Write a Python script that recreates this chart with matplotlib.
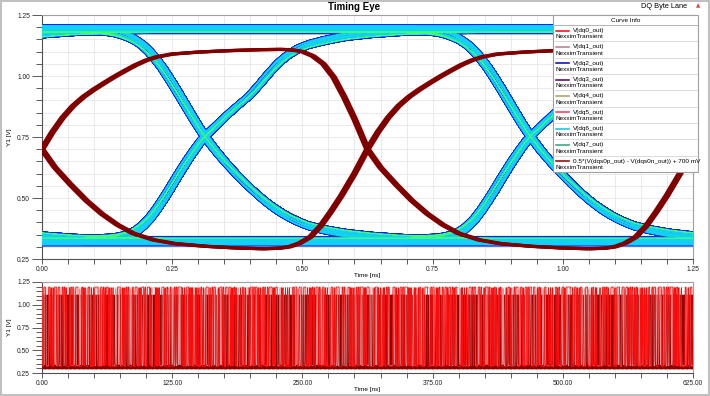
import numpy as np
import matplotlib
matplotlib.use("Agg")
import matplotlib.pyplot as plt
from matplotlib.collections import LineCollection
from matplotlib.patches import Rectangle
from matplotlib.ticker import MultipleLocator, FormatStrFormatter

plt.rcParams['font.family'] = ['Liberation Sans', 'DejaVu Sans']
plt.rcParams['path.simplify'] = False

# ---------------- data ----------------
UI = 0.625          # ns, DQ unit interval
EYE_SPAN = 1.25     # ns, eye window
TRAN_END = 625.0    # ns

# DQ edge shapes read from the eye (time from crossing [ns], volts)
rise_dt = [-0.24, -0.20, -0.17, -0.15, -0.13, -0.11, -0.09, -0.07, -0.05, -0.03, -0.01, 0.0,
           0.02, 0.04, 0.06, 0.08, 0.10, 0.12, 0.14, 0.16, 0.18, 0.20, 0.23, 0.27, 0.32, 0.38, 0.45, 0.55]
rise_v = [0.330, 0.333, 0.340, 0.352, 0.375, 0.410, 0.465, 0.530, 0.600, 0.665, 0.725, 0.750,
          0.790, 0.830, 0.868, 0.902, 0.945, 0.995, 1.040, 1.075, 1.100, 1.117, 1.133, 1.150, 1.162, 1.171, 1.177, 1.180]
fall_dt = [-0.24, -0.20, -0.18, -0.16, -0.14, -0.12, -0.10, -0.08, -0.06, -0.04, -0.02, 0.0,
           0.02, 0.04, 0.06, 0.08, 0.10, 0.12, 0.14, 0.16, 0.18, 0.20, 0.23, 0.27, 0.32, 0.38, 0.45, 0.55]
fall_v = [1.180, 1.178, 1.172, 1.160, 1.142, 1.115, 1.075, 1.020, 0.955, 0.885, 0.815, 0.750,
          0.695, 0.645, 0.600, 0.558, 0.520, 0.485, 0.455, 0.430, 0.410, 0.393, 0.377, 0.362, 0.350, 0.341, 0.335, 0.330]
EDGE_LOW, EDGE_HIGH = 0.33, 1.18

# DQS differential (one clock period, rising crossing at 0, falling crossing at 0.625)
dqs_t = [0.00, 0.02, 0.04, 0.06, 0.08, 0.10, 0.12, 0.14, 0.16, 0.18, 0.20, 0.22, 0.25, 0.30, 0.36, 0.42,
         0.46, 0.48, 0.50, 0.52, 0.54, 0.56, 0.58, 0.60, 0.625, 0.65, 0.68, 0.71, 0.74, 0.77, 0.80, 0.84,
         0.88, 0.94, 1.00, 1.05, 1.08, 1.10, 1.12, 1.14, 1.16, 1.18, 1.20, 1.225, 1.25]
dqs_v = [0.700, 0.770, 0.830, 0.878, 0.915, 0.945, 0.972, 0.998, 1.022, 1.045, 1.064, 1.078, 1.090, 1.098,
         1.104, 1.108, 1.109, 1.107, 1.100, 1.082, 1.050, 0.995, 0.915, 0.825, 0.700, 0.625, 0.555, 0.490,
         0.435, 0.390, 0.355, 0.328, 0.313, 0.302, 0.295, 0.292, 0.294, 0.300, 0.315, 0.340, 0.385, 0.445,
         0.510, 0.600, 0.700]
dqs_jitter = [-0.0035, 0.0, 0.0035]   # ns, spread of the DQS trace in the eye

legend_labels = ["V(dq0_out)", "V(dq1_out)", "V(dq2_out)", "V(dq3_out)", "V(dq4_out)",
                 "V(dq5_out)", "V(dq6_out)", "V(dq7_out)",
                 "0.5*(V(dqs0p_out) - V(dqs0n_out)) + 700 mV"]
legend_colors = ["#ff0000", "#b87888", "#0000c8", "#500058", "#a89c68",
                 "#ff3058", "#10c0e0", "#30a080", "#800000"]

lane_high = [1.195, 1.185, 1.205, 1.18, 1.19, 1.20, 1.185, 1.205]
lane_low = [0.32, 0.33, 0.31, 0.335, 0.325, 0.315, 0.33, 0.31]
lane_skew = [0.007, 0.004, -0.004, 0.0, -0.007, 0.002, -0.002, 0.005]

lane_bits_hex = [
    "9C3A5E71B42D8F06A1C97E3B5D240F8A6C19E57B3D02A8F4C6"
    "1B7E93D50A4C8F26E17B39D5A04C82F6E91B37D5C0A2486F1E"
    "3C95A7B1D20E4F86C3A91B7D5E02F48A6C1E93B7D50A2C4F86"
    "E2B19D735C0A48F6E3B17D95A2C04E86F1D3B79C5A0E2486B1"
    "D7F93A5C1E0B2846DA3C9F1E75B2D0A48C6E1F39B7D5A20C4E5A",
    "6E1B94C7A3F0582DB6E19C4A7F305D28E6B1C94A7D3F0825B6"
    "A4D7193E6C0B58F2A4D71E93C60B5F28A7D419E3C6B05F82A4"
    "F08C3D6A91E5B27C4F08D3A6E19B5C27F40D8A3E6C91B527F0"
    "2C9E5B18A7D4063FC29E5B81A7D4F063C2E95B18D7A4063FC2"
    "8B3F6D1A4E9C7025B83F6D1A9E4C7250B8F36D1A4E9C7205B87D",
    "A7C41E9B36D85F20C7A3E91B4D6F0825",
    "3E8B51D7A2C96F04E3B85D1A7C29F604",
    "D15A8E3C7B094F62D1A58E3C7B90F426",
    "58C2F7A1E4B9063D85C2F7A1E49B60D3",
    "B94E1C6A8F25D703B94E1C6A82F5D730",
    "4F7A2D9C1E86B5034F7A2D9C1E86B530",
]

eye_xticks = [0.0, 0.25, 0.50, 0.75, 1.00, 1.25]
y_ticks = [0.25, 0.50, 0.75, 1.00, 1.25]
tran_xticks = [0.0, 125.0, 250.0, 375.0, 500.0, 625.0]

# ---------------- waveform build ----------------
rise_dt_a = np.array(rise_dt)
fall_dt_a = np.array(fall_dt)
rise_frac = (np.array(rise_v) - EDGE_LOW) / (EDGE_HIGH - EDGE_LOW)
fall_frac = (EDGE_HIGH - np.array(fall_v)) / (EDGE_HIGH - EDGE_LOW)


def hex_to_bits(h, nmax=1000):
    b = [int(c) for ch in h for c in format(int(ch, 16), '04b')]
    return np.array(b[:nmax])


def lane_wave(bits, t, lo, hi, skew):
    sw = hi - lo
    v = np.full(t.shape, lo + sw * bits[0], dtype=float)
    for k in range(1, len(bits)):
        d = bits[k] - bits[k - 1]
        if d == 0:
            continue
        tc = (k - 0.5) * UI + skew
        dts, fr = (rise_dt_a, rise_frac) if d > 0 else (fall_dt_a, fall_frac)
        i0 = np.searchsorted(t, tc + dts[0])
        i1 = np.searchsorted(t, tc + dts[-1])
        v[i0:i1] += d * sw * np.interp(t[i0:i1] - tc, dts, fr)
        v[i1:] += d * sw
    return v


STEP = 0.0125
PTS = int(round(EYE_SPAN / STEP))
t_local = np.arange(PTS + 1) * STEP

lane_waves = []
eye_segs = []
eye_segs_lane = []
for i, hx in enumerate(lane_bits_hex):
    bits = hex_to_bits(hx)
    nwin = len(bits) // 2
    t = np.arange(nwin * PTS + 1) * STEP
    v = lane_wave(bits, t, lane_low[i], lane_high[i], lane_skew[i])
    lane_waves.append((t, v))
    for j in range(nwin):
        seg = np.column_stack([t_local, v[j * PTS:(j + 1) * PTS + 1]])
        eye_segs.append(seg)
        eye_segs_lane.append(i)

# ---------------- figure ----------------
W, H = 710, 396
fig = plt.figure(figsize=(W / 100, H / 100), dpi=100)
fig.patch.set_facecolor('white')

ax = fig.add_axes([42 / W, 1 - 259 / H, 651 / W, 244 / H])
axb = fig.add_axes([42 / W, 1 - 373 / H, 651 / W, 91 / H])

for a in (ax, axb):
    a.set_ylim(0.25, 1.25)
    a.set_yticks(y_ticks)
    a.yaxis.set_minor_locator(MultipleLocator(0.05))
    a.yaxis.set_major_formatter(FormatStrFormatter('%.2f'))
    a.tick_params(axis='y', which='major', direction='out', length=7.2, width=0.6,
                  color='#404040', labelsize=4.8, pad=1.5, labelcolor='#202020')
    a.tick_params(axis='y', which='minor', direction='out', length=4, width=0.6, color='#404040')
    a.tick_params(axis='x', which='both', direction='out', length=3.6, width=0.6,
                  color='#404040', labelsize=4.8, pad=1.5, labelcolor='#202020')
    a.grid(which='both', color='#e6e6e6', lw=0.6)
    a.set_axisbelow(True)
    for s in ('left', 'bottom'):
        a.spines[s].set_color('#505050')
        a.spines[s].set_linewidth(0.8)
    for s in ('top', 'right'):
        a.spines[s].set_color('#a0a0a0')
        a.spines[s].set_linewidth(0.8)

ax.set_xlim(0, EYE_SPAN)
ax.set_xticks(eye_xticks)
ax.xaxis.set_minor_locator(MultipleLocator(0.05))
ax.xaxis.set_major_formatter(FormatStrFormatter('%.2f'))

axb.set_xlim(0, TRAN_END)
axb.set_xticks(tran_xticks)
axb.xaxis.set_minor_locator(MultipleLocator(25))
axb.xaxis.set_major_formatter(FormatStrFormatter('%.2f'))

# eye: density-like layering
ax.add_collection(LineCollection(eye_segs, colors='#0a22f4', linewidths=2.3, zorder=2))
ax.add_collection(LineCollection(eye_segs, colors='#1e78ff', linewidths=1.1, zorder=3))
ax.add_collection(LineCollection(eye_segs, colors='#12d2f6', linewidths=0.4, zorder=4))
green = [s for s, l in zip(eye_segs, eye_segs_lane) if l == 3]
ax.add_collection(LineCollection(green, colors='#40ff70', linewidths=0.3, zorder=5))

# DQS in eye (copies shifted by half a period cover both branches)
dqs_t_a = np.array(dqs_t)
for sh in (-UI, 0.0, UI):
    for jt in dqs_jitter:
        ax.plot(dqs_t_a + sh + jt, dqs_v, color='#800000', lw=2.3, zorder=6,
                solid_capstyle='butt', solid_joinstyle='round')

# transient plot
ncyc = int(round(TRAN_END / EYE_SPAN))
tt = (np.arange(ncyc)[:, None] * EYE_SPAN + dqs_t_a[None, :-1]).ravel()
vv = np.tile(np.array(dqs_v)[:-1], ncyc)
axb.plot(tt, vv, color='#8c0000', lw=0.6, zorder=3)
t1, v1 = lane_waves[1]
axb.plot(t1, v1, color='#e69494', lw=0.5, zorder=4)
t0, v0 = lane_waves[0]
axb.plot(t0, v0, color='#ff0a0a', lw=0.55, zorder=5)

# labels
fig.text(354 / W, 1 - 7 / H, "Timing Eye", ha='center', va='center', fontsize=7, fontweight='bold')
fig.text(664 / W, 1 - 7 / H, "DQ Byte Lane", ha='center', va='center', fontsize=5.3)
fig.text(698 / W, 1 - 6 / H, "\u25b2", ha='center', va='center', fontsize=4, color='#e04040',
         family='DejaVu Sans')
fig.text(367 / W, 1 - 276 / H, "Time [ns]", ha='center', va='center', fontsize=4.6)
fig.text(367 / W, 1 - 390 / H, "Time [ns]", ha='center', va='center', fontsize=4.6)
fig.text(9 / W, 1 - 137 / H, "Y1 [V]", ha='center', va='center', fontsize=4.6, rotation=90)
fig.text(9 / W, 1 - 327 / H, "Y1 [V]", ha='center', va='center', fontsize=4.6, rotation=90)

# legend box ("Curve Info")
lx0, ly0, lw_, lh_ = 553, 15, 145, 157
leg = fig.add_axes([lx0 / W, 1 - (ly0 + lh_) / H, lw_ / W, lh_ / H])
leg.set_xlim(0, lw_)
leg.set_ylim(lh_, 0)
leg.axis('off')
leg.add_patch(Rectangle((0, 0), lw_, lh_, fc='white', ec='#a0a0a0', lw=0.8, clip_on=False))
leg.text(lw_ / 2, 5, "Curve Info", ha='center', va='center', fontsize=4.6)
leg.plot([0, lw_], [10, 10], color='#a8a8a8', lw=0.6)
row_h = (lh_ - 10) / len(legend_labels)
for i, (lab, col) in enumerate(zip(legend_labels, legend_colors)):
    y0 = 10 + i * row_h
    leg.plot([3, 16], [y0 + 5.6] * 2, color=col, lw=1.1)
    leg.text(20, y0 + 5.6, lab, va='center', ha='left', fontsize=4.6)
    leg.text(3, y0 + 11.7, "NexximTransient", va='center', ha='left', fontsize=4.6)
    if i < len(legend_labels) - 1:
        leg.plot([1.5, lw_ - 1.5], [y0 + row_h] * 2, color='#cccccc', lw=0.5)

# outer frame
fig.patches.append(Rectangle((0.001, 0.002), 0.997, 0.996, transform=fig.transFigure,
                             fill=False, ec='#c0c0c0', lw=1.5))

fig.savefig("out.png", dpi=100)
